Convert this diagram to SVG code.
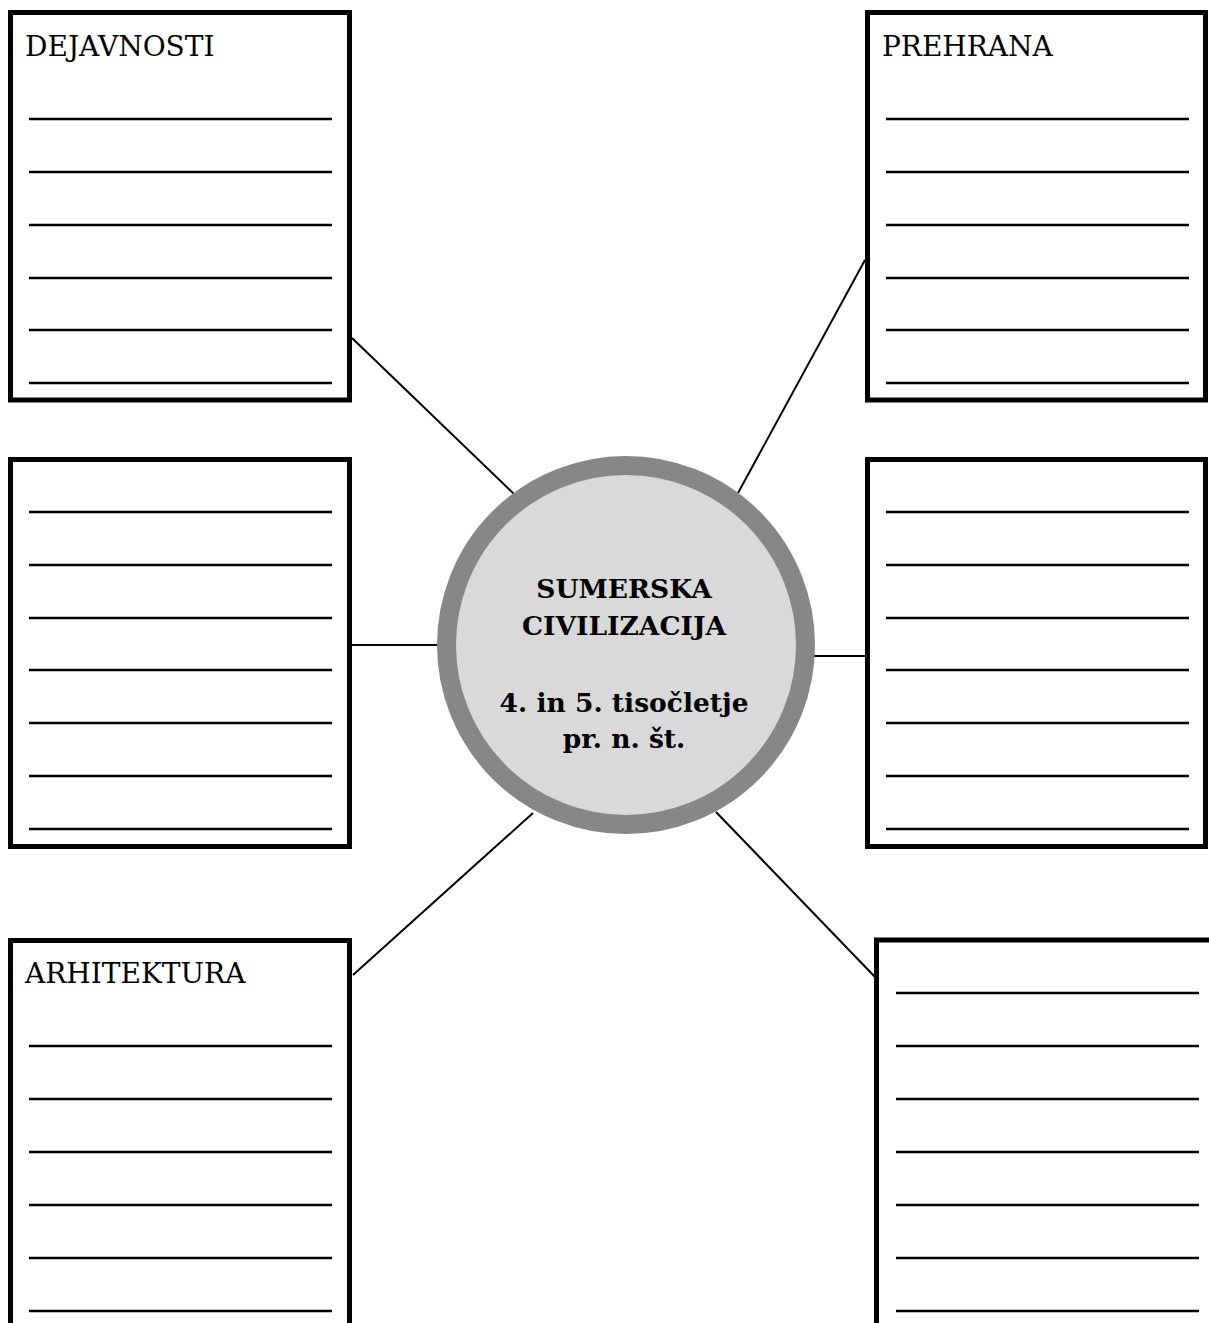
<svg xmlns="http://www.w3.org/2000/svg" width="1209" height="1323" viewBox="0 0 1209 1323">
<style>
.box{fill:#fff;stroke:#000;stroke-width:5}
.rule{stroke:#000;stroke-width:2.5}
.conn{stroke:#000;stroke-width:2;fill:none}
.lbl{font-family:"DejaVu Serif","Liberation Serif",serif;font-size:28px;fill:#000}
.ctr{font-family:"DejaVu Serif","Liberation Serif",serif;font-weight:bold;font-size:26.5px;fill:#000;text-anchor:middle}
</style>
<rect width="1209" height="1323" fill="#fff"/>
<g id="connectors">
<line class="conn" x1="352" y1="338" x2="514" y2="494"/>
<line class="conn" x1="865" y1="260" x2="738" y2="493"/>
<line class="conn" x1="352" y1="645" x2="438" y2="645"/>
<line class="conn" x1="814" y1="656" x2="866" y2="656"/>
<line class="conn" x1="353" y1="975" x2="533" y2="813"/>
<line class="conn" x1="716" y1="812" x2="875" y2="977"/>
</g>
<g id="box-dejavnosti">
<rect class="box" x="10.5" y="12.5" width="339" height="387.5"/>
<text class="lbl" x="25" y="56">DEJAVNOSTI</text>
<g class="rule">
<line x1="29" y1="119" x2="332" y2="119"/>
<line x1="29" y1="172" x2="332" y2="172"/>
<line x1="29" y1="225" x2="332" y2="225"/>
<line x1="29" y1="278" x2="332" y2="278"/>
<line x1="29" y1="330" x2="332" y2="330"/>
<line x1="29" y1="383" x2="332" y2="383"/>
</g>
</g>
<g id="box-left-middle">
<rect class="box" x="10.5" y="459.5" width="339" height="387"/>
<g class="rule">
<line x1="29" y1="512" x2="332" y2="512"/>
<line x1="29" y1="565" x2="332" y2="565"/>
<line x1="29" y1="618" x2="332" y2="618"/>
<line x1="29" y1="670" x2="332" y2="670"/>
<line x1="29" y1="723" x2="332" y2="723"/>
<line x1="29" y1="776" x2="332" y2="776"/>
<line x1="29" y1="829" x2="332" y2="829"/>
</g>
</g>
<g id="box-arhitektura">
<rect class="box" x="10.5" y="940.5" width="339" height="400"/>
<text class="lbl" x="25" y="983">ARHITEKTURA</text>
<g class="rule">
<line x1="29" y1="1046" x2="332" y2="1046"/>
<line x1="29" y1="1099" x2="332" y2="1099"/>
<line x1="29" y1="1152" x2="332" y2="1152"/>
<line x1="29" y1="1205" x2="332" y2="1205"/>
<line x1="29" y1="1258" x2="332" y2="1258"/>
<line x1="29" y1="1311" x2="332" y2="1311"/>
</g>
</g>
<g id="box-prehrana">
<rect class="box" x="867.5" y="12.5" width="338" height="387.5"/>
<text class="lbl" x="882" y="56">PREHRANA</text>
<g class="rule">
<line x1="886" y1="119" x2="1189" y2="119"/>
<line x1="886" y1="172" x2="1189" y2="172"/>
<line x1="886" y1="225" x2="1189" y2="225"/>
<line x1="886" y1="278" x2="1189" y2="278"/>
<line x1="886" y1="330" x2="1189" y2="330"/>
<line x1="886" y1="383" x2="1189" y2="383"/>
</g>
</g>
<g id="box-right-middle">
<rect class="box" x="867.5" y="459.5" width="338" height="387"/>
<g class="rule">
<line x1="886" y1="512" x2="1189" y2="512"/>
<line x1="886" y1="565" x2="1189" y2="565"/>
<line x1="886" y1="618" x2="1189" y2="618"/>
<line x1="886" y1="670" x2="1189" y2="670"/>
<line x1="886" y1="723" x2="1189" y2="723"/>
<line x1="886" y1="776" x2="1189" y2="776"/>
<line x1="886" y1="829" x2="1189" y2="829"/>
</g>
</g>
<g id="box-right-bottom">
<rect class="box" x="876.5" y="940" width="360" height="400"/>
<g class="rule">
<line x1="896" y1="993" x2="1199" y2="993"/>
<line x1="896" y1="1046" x2="1199" y2="1046"/>
<line x1="896" y1="1099" x2="1199" y2="1099"/>
<line x1="896" y1="1152" x2="1199" y2="1152"/>
<line x1="896" y1="1205" x2="1199" y2="1205"/>
<line x1="896" y1="1258" x2="1199" y2="1258"/>
<line x1="896" y1="1311" x2="1199" y2="1311"/>
</g>
</g>
<g id="center">
<circle cx="626" cy="645" r="179.5" fill="#d9d9d9" stroke="#878787" stroke-width="19"/>
<text class="ctr" x="624" y="598">SUMERSKA</text>
<text class="ctr" x="624" y="635">CIVILIZACIJA</text>
<text class="ctr" x="624" y="712">4. in 5. tisočletje</text>
<text class="ctr" x="624" y="748">pr. n. št.</text>
</g>
</svg>
